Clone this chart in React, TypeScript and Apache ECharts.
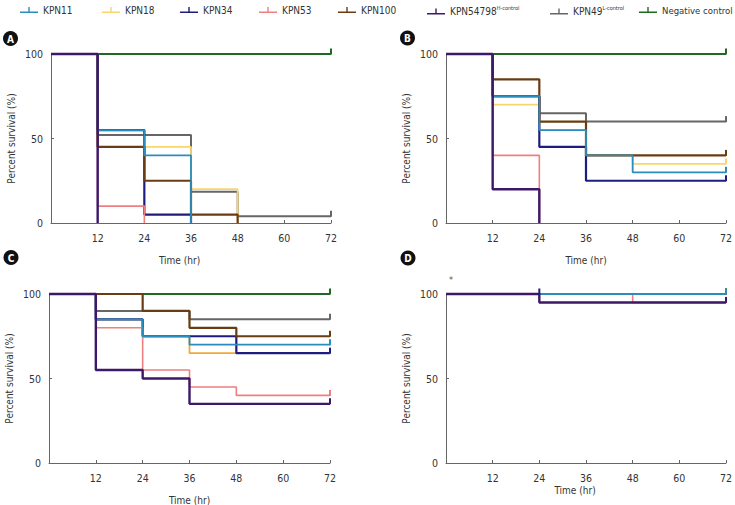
import React, { useEffect, useRef } from 'react';
import * as echarts from 'echarts';

const FONT = "'DejaVu Sans Condensed', 'Liberation Sans Narrow', 'Noto Sans', sans-serif";

// drawing order (bottom -> top)
const drawOrder = ['Negative control', 'KPN49', 'KPN18', 'KPN34', 'KPN53', 'KPN100', 'KPN11', 'KPN54798'];
const legendOrder = ['KPN11', 'KPN18', 'KPN34', 'KPN53', 'KPN100', 'KPN54798', 'KPN49', 'Negative control'];
const legendLabels: Record<string, string> = {
  KPN54798: 'KPN54798{sup|H-control}',
  KPN49: 'KPN49{sup|L-control}',
};
const legendLeft = [15, 97, 175, 254, 333, 422, 545, 634];

const colors: Record<string, string> = {
  KPN11: '#2a8dbb',
  KPN18: '#f9d56e',
  KPN34: '#1d1d80',
  KPN53: '#f07f7f',
  KPN100: '#6a3c14',
  KPN54798: '#3d1869',
  KPN49: '#666666',
  'Negative control': '#1e6a25',
};
const panelCColorOverride: Record<string, string> = { KPN18: '#f0aa3a' };

const timeTicks = [12, 24, 36, 48, 60, 72];
const percentTicks = [0, 50, 100];
const panelLetters = ['A', 'B', 'C', 'D'];

// Panel A: [time(hr), percent survival]
const A_NEG = [[0, 100], [72, 100]];
const A_KPN49 = [[0, 100], [12, 52], [36, 18.5], [48, 4], [72, 4]];
const A_KPN18 = [[0, 100], [12, 45], [36, 20], [48, 0]];
const A_KPN34 = [[0, 100], [12, 55], [24, 5], [36, 0]];
const A_KPN53 = [[0, 100], [12, 10], [24, 0]];
const A_KPN100 = [[0, 100], [12, 45], [24, 25], [36, 5], [48, 0]];
const A_KPN11 = [[0, 100], [12, 55], [24, 40], [36, 0]];
const A_KPN54798 = [[0, 100], [12, 0]];

// Panel B
const B_NEG = [[0, 100], [72, 100]];
const B_KPN49 = [[0, 100], [12, 75], [24, 65], [36, 60], [72, 60]];
const B_KPN18 = [[0, 100], [12, 70], [24, 55], [36, 40], [48, 35], [72, 35]];
const B_KPN34 = [[0, 100], [12, 75], [24, 45], [36, 25], [72, 25]];
const B_KPN53 = [[0, 100], [12, 40], [24, 0]];
const B_KPN100 = [[0, 100], [12, 85], [24, 60], [36, 40], [72, 40]];
const B_KPN11 = [[0, 100], [12, 75], [24, 55], [36, 40], [48, 30], [72, 30]];
const B_KPN54798 = [[0, 100], [12, 20], [24, 0]];

// Panel C
const C_NEG = [[0, 100], [72, 100]];
const C_KPN49 = [[0, 100], [12, 90], [36, 85], [72, 85]];
const C_KPN18 = [[0, 100], [12, 85], [24, 75], [36, 65], [72, 65]];
const C_KPN34 = [[0, 100], [12, 85], [24, 75], [48, 65], [72, 65]];
const C_KPN53 = [[0, 100], [12, 80], [24, 55], [36, 45], [48, 40], [72, 40]];
const C_KPN100 = [[0, 100], [24, 90], [36, 80], [48, 75], [72, 75]];
const C_KPN11 = [[0, 100], [12, 85], [24, 75], [36, 70], [72, 70]];
const C_KPN54798 = [[0, 100], [12, 55], [24, 50], [36, 35], [72, 35]];

// Panel D
const D_NEG = [[0, 100], [72, 100]];
const D_KPN49 = [[0, 100], [72, 100]];
const D_KPN18 = [[0, 100], [72, 100]];
const D_KPN34 = [[0, 100], [24, 100]];
const D_KPN53 = [[0, 100], [48, 95], [72, 95]];
const D_KPN100 = [[0, 100], [72, 100]];
const D_KPN11 = [[0, 100], [72, 100]];
const D_KPN54798 = [[0, 100], [24, 95], [72, 95]];

const panelData: Record<string, number[][]>[] = [
  { 'Negative control': A_NEG, KPN49: A_KPN49, KPN18: A_KPN18, KPN34: A_KPN34, KPN53: A_KPN53, KPN100: A_KPN100, KPN11: A_KPN11, KPN54798: A_KPN54798 },
  { 'Negative control': B_NEG, KPN49: B_KPN49, KPN18: B_KPN18, KPN34: B_KPN34, KPN53: B_KPN53, KPN100: B_KPN100, KPN11: B_KPN11, KPN54798: B_KPN54798 },
  { 'Negative control': C_NEG, KPN49: C_KPN49, KPN18: C_KPN18, KPN34: C_KPN34, KPN53: C_KPN53, KPN100: C_KPN100, KPN11: C_KPN11, KPN54798: C_KPN54798 },
  { 'Negative control': D_NEG, KPN49: D_KPN49, KPN18: D_KPN18, KPN34: D_KPN34, KPN53: D_KPN53, KPN100: D_KPN100, KPN11: D_KPN11, KPN54798: D_KPN54798 },
];

const grids = [
  { left: 51, top: 54, width: 280, height: 169 },
  { left: 446, top: 54, width: 281, height: 169 },
  { left: 49, top: 294, width: 281, height: 169 },
  { left: 446, top: 294, width: 281, height: 169 },
];
const letterPos = [[10.5, 38.5], [407.5, 38], [11, 257.5], [408, 258]];
const timeTitlePos = [[179.5, 260], [586, 260], [189.5, 500], [575, 490]];

const widths: Record<string, number> = {
  KPN11: 1.8, KPN18: 1.8, KPN34: 2.2, KPN53: 1.6, KPN100: 2.2, KPN54798: 2.4, KPN49: 2, 'Negative control': 1.8,
};

function buildOption() {
  const xAxis: any[] = [];
  const yAxis: any[] = [];
  const series: any[] = [];
  grids.forEach((g, i) => {
    xAxis.push({
      type: 'value', gridIndex: i, min: 0, max: 72, interval: 12,
      axisLine: { show: true, lineStyle: { color: '#666', width: 1 } },
      axisTick: { show: true, inside: true, length: 3, lineStyle: { color: '#666' } },
      splitLine: { show: false },
      axisLabel: {
        color: '#333', fontFamily: FONT, fontSize: 10.5, margin: 9,
        formatter: (v: number) => (timeTicks.includes(v) ? String(v) : ''),
      },
    });
    yAxis.push({
      type: 'value', gridIndex: i, min: 0, max: 100, interval: 50,
      axisLine: { show: true, lineStyle: { color: '#666', width: 1 } },
      axisTick: { show: true, inside: true, length: 3, lineStyle: { color: '#666' } },
      splitLine: { show: false },
      axisLabel: {
        color: '#333', fontFamily: FONT, fontSize: 10.5, margin: 8,
        formatter: (v: number) => (percentTicks.includes(v) ? String(v) : ''),
      },
      name: 'Percent survival (%)',
      nameLocation: 'middle',
      nameGap: 35,
      nameTextStyle: { color: '#333', fontFamily: FONT, fontSize: 10 },
    });
    drawOrder.forEach((name) => {
      const pts = panelData[i][name];
      const color = (i === 2 && panelCColorOverride[name]) || colors[name];
      const last = pts[pts.length - 1];
      const data = pts.map((p, k) => {
        if (k === pts.length - 1 && last[1] > 0) {
          return { value: p, symbol: 'rect', symbolSize: [2, 6], symbolOffset: [0, -2.5] };
        }
        return { value: p, symbol: 'none' };
      });
      series.push({
        type: 'line', name, xAxisIndex: i, yAxisIndex: i, step: 'end',
        data, symbol: 'none', showSymbol: true, clip: false,
        lineStyle: { color, width: widths[name] },
        itemStyle: { color },
        emphasis: { disabled: true },
        z: 2,
      });
    });
  });

  const legend = legendOrder.map((name, k) => ({
    data: [name],
    left: legendLeft[k],
    top: 0,
    itemWidth: 18,
    itemHeight: 6,
    selectedMode: false,
    icon: 'path://M0,6.5 L18,6.5 L18,8 L0,8 Z M8.3,2 L9.7,2 L9.7,6.5 L8.3,6.5 Z',
    itemStyle: { borderWidth: 0 },
    formatter: () => legendLabels[name] || name,
    textStyle: {
      color: '#333', fontFamily: FONT, fontSize: name === 'Negative control' ? 9.5 : 10,
      rich: { sup: { fontSize: 5.5, fontFamily: FONT, color: '#333', verticalAlign: 'top', padding: [0, 0, 7, 0] } },
    },
  }));

  const graphic: any[] = [];
  letterPos.forEach((p, i) => {
    graphic.push({ type: 'circle', shape: { cx: p[0], cy: p[1], r: 7.5 }, style: { fill: '#111' }, silent: true });
    graphic.push({
      type: 'text', x: p[0], y: p[1] + 0.5,
      style: { text: panelLetters[i], fill: '#fff', font: `bold 10px ${FONT}`, align: 'center', verticalAlign: 'middle' },
      silent: true,
    });
  });
  timeTitlePos.forEach((p) => {
    graphic.push({
      type: 'text', x: p[0], y: p[1],
      style: { text: 'Time (hr)', fill: '#333', font: `10px ${FONT}`, align: 'center', verticalAlign: 'middle' },
      silent: true,
    });
  });
  graphic.push({
    type: 'text', x: 451, y: 280,
    style: { text: '*', fill: '#555', font: `9px ${FONT}`, align: 'center', verticalAlign: 'middle' },
    silent: true,
  });

  return {
    animation: false,
    backgroundColor: '#ffffff',
    grid: grids.map((g) => ({ ...g, containLabel: false })),
    xAxis, yAxis, series, legend, graphic,
  };
}

export default function App() {
  const ref = useRef<HTMLDivElement>(null);
  useEffect(() => {
    if (!ref.current) return;
    const chart = echarts.init(ref.current, undefined, { renderer: 'svg' });
    chart.setOption(buildOption() as any);
    return () => chart.dispose();
  }, []);
  return (
    <div
      ref={ref}
      style={{ position: 'absolute', left: 0, top: 0, width: 735, height: 505, background: '#fff' }}
    />
  );
}
